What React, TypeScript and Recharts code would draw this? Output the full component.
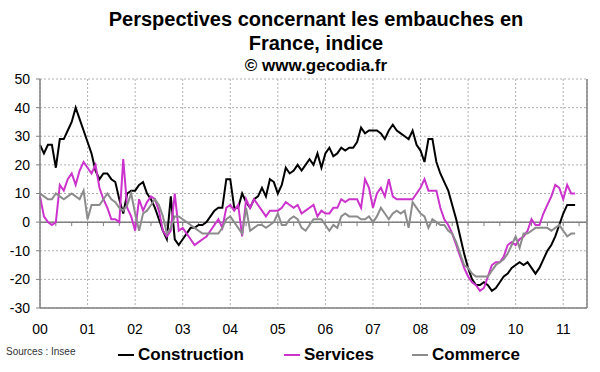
import { LineChart, Line, XAxis, YAxis, CartesianGrid, ReferenceLine } from 'recharts';

// monthly values, Jan 2000 .. Apr 2011
const construction = [
  27, 24, 27, 27, 19, 29, 29, 32, 35, 40, 36, 32,
  28, 24, 18, 15, 17, 17, 15, 14, 8, 3, 10, 11,
  11, 13, 14, 10, 8, 5, 1, -3, -6, 9, -6, -8,
  -6, -4, -2, -2, -1, -1, 0, 2, 4, 5, 5, 15,
  15, 5, 5, 10, 7, 5, 8, 9, 12, 9, 15, 14,
  10, 13, 19, 17, 18, 20, 18, 20, 22, 20, 24, 19,
  24, 26, 23, 24, 26, 25, 26, 26, 28, 33, 31, 32,
  32, 32, 31, 29, 32, 34, 32, 31, 30, 29, 32, 27,
  25, 21, 29, 29, 21, 17, 14, 11, 6, 1, -5, -11,
  -16, -20, -22, -22, -21, -22, -24, -23, -21, -19, -18, -16,
  -15, -14, -15, -14, -16, -18, -16, -13, -10, -8, -5, -1,
  3, 6, 6, 6,
];

const services = [
  9, 2, 0, -1, 0, 13, 11, 15, 17, 13, 18, 21,
  19, 17, 20, 12, 8, 5, 1, 1, 0, 22, 5, 2,
  -3, 8, 4, 7, 9, 8, 4, -3, -5, -3, 10, -3,
  -2, -4, -6, -8, -7, -6, -5, -3, -1, 1, -2, 5,
  6, 4, 6, -5, 8, 5, 8, 6, 4, 2, 4, 4,
  4, 5, 7, 6, 5, 6, 3, 4, 5, 6, 2, 4,
  3, 3, 5, 5, 8, 7, 8, 8, 8, 5, 15, 12,
  5, 10, 12, 9, 15, 9, 8, 8, 8, 8, 8, 10,
  12, 15, 11, 11, 11, 5, 1, -1, -4, -8, -12, -16,
  -19, -21, -22, -24, -23, -19, -15, -14, -14, -12, -8, -7,
  -8, -6, -5, -3, 1, -1, -1, 3, 6, 9, 13, 12,
  8, 13, 10, 10,
];

const commerce = [
  10, 9, 8, 8, 10, 9, 8, 9, 10, 9, 8, 11,
  1, 6, 6, 6, 8, 10, 8, 7, 5, 4, 6, 10,
  3, -3, 3, 4, 6, 8, 6, 2, -4, -2, 2, 2,
  1, 0, -1, -2, -3, -4, -4, -4, -4, -4, -2, 1,
  2, 0, -2, -4, 5, -3, -2, -1, -1, -2, -1, 0,
  3, -1, -1, 1, 2, 1, -2, -3, -1, 1, 1, 1,
  -1, -3, -1, -2, 2, 3, 2, 2, 2, 1, 1, 2,
  0, 2, 5, 3, 1, 3, 4, 3, 4, -2, 7, 5,
  3, 2, -2, 1, 0, -1, -1, -3, -4, -7, -11, -15,
  -16, -18, -19, -19, -19, -19, -17, -15, -14, -13, -11, -8,
  -5, -9, -4, -4, -3, -2, -2, -2, -2, -3, -2, -1,
  -3, -5, -4, -4,
];

const yearLabels = ['00', '01', '02', '03', '04', '05', '06', '07', '08', '09', '10', '11'];
const yTicks = [-30, -20, -10, 0, 10, 20, 30, 40, 50];

const X_MAX = 138;
const yearTicks = yearLabels.map((_, i) => i * 12);
const zeroTicks = Array.from({ length: 34 }, (_, i) => (i + 1) * 4);

const data = construction.map((v, i) => ({
  m: i,
  construction: v,
  services: services[i],
  commerce: commerce[i],
}));

const MAGENTA = '#CC33CC';
const GREY = '#8C8C8C';
const AXIS = '#808080';

const legend = [
  { name: 'Construction', color: '#000000', left: 118 },
  { name: 'Services', color: MAGENTA, left: 284 },
  { name: 'Commerce', color: GREY, left: 412 },
];

export default function App() {
  return (
    <div
      style={{
        position: 'absolute',
        left: 0,
        top: 0,
        width: 600,
        height: 372,
        background: '#fff',
        fontFamily: '"Liberation Sans", Arial, sans-serif',
        color: '#000',
      }}
    >
      <div style={{ position: 'absolute', left: 66, width: 500, top: 7, textAlign: 'center', fontWeight: 'bold', fontSize: 20, lineHeight: '24px', whiteSpace: 'nowrap' }}>
        Perspectives concernant les embauches en
        <br />
        France, indice
      </div>
      <div style={{ position: 'absolute', left: 66, width: 500, top: 56, textAlign: 'center', fontWeight: 'bold', fontSize: 17, lineHeight: '20px' }}>
        © www.gecodia.fr
      </div>

      <LineChart width={600} height={372} data={data} margin={{ top: 79, right: 13, bottom: 34, left: 8 }}>
        <CartesianGrid stroke="#b0b0b0" strokeDasharray="2 2" />
        <XAxis
          dataKey="m"
          type="number"
          domain={[0, X_MAX]}
          ticks={yearTicks}
          tickFormatter={(v: number) => yearLabels[v / 12]}
          interval={0}
          height={30}
          axisLine={{ stroke: AXIS, strokeWidth: 1.5 }}
          tickLine={false}
          tickSize={6}
          tickMargin={10}
          tick={{ fontSize: 14, fill: '#000' }}
        />
        <YAxis
          domain={[-30, 50]}
          ticks={yTicks}
          interval={0}
          width={32}
          axisLine={{ stroke: AXIS, strokeWidth: 1.5 }}
          tickLine={{ stroke: AXIS }}
          tickSize={4}
          tickMargin={6}
          tick={{ fontSize: 14, fill: '#000' }}
        />
        <ReferenceLine x={X_MAX} stroke={AXIS} strokeWidth={1.5} />
        <ReferenceLine y={0} stroke={AXIS} strokeWidth={1.5} />
        {zeroTicks.map((t) => (
          <ReferenceLine key={t} segment={[{ x: t, y: 0 }, { x: t, y: -1.4 }]} stroke={AXIS} />
        ))}
        <Line type="linear" dataKey="construction" stroke="#000000" strokeWidth={2} dot={false} isAnimationActive={false} />
        <Line type="linear" dataKey="services" stroke={MAGENTA} strokeWidth={2} dot={false} isAnimationActive={false} />
        <Line type="linear" dataKey="commerce" stroke={GREY} strokeWidth={2} dot={false} isAnimationActive={false} />
      </LineChart>

      <div style={{ position: 'absolute', left: 6, top: 346, fontSize: 10, color: '#333' }}>Sources : Insee</div>
      {legend.map((l) => (
        <div key={l.name} style={{ position: 'absolute', left: l.left, top: 345, display: 'flex', alignItems: 'center', fontWeight: 'bold', fontSize: 17 }}>
          <span style={{ display: 'inline-block', width: 16, height: 2, background: l.color, marginRight: 4 }} />
          <span>{l.name}</span>
        </div>
      ))}
    </div>
  );
}
